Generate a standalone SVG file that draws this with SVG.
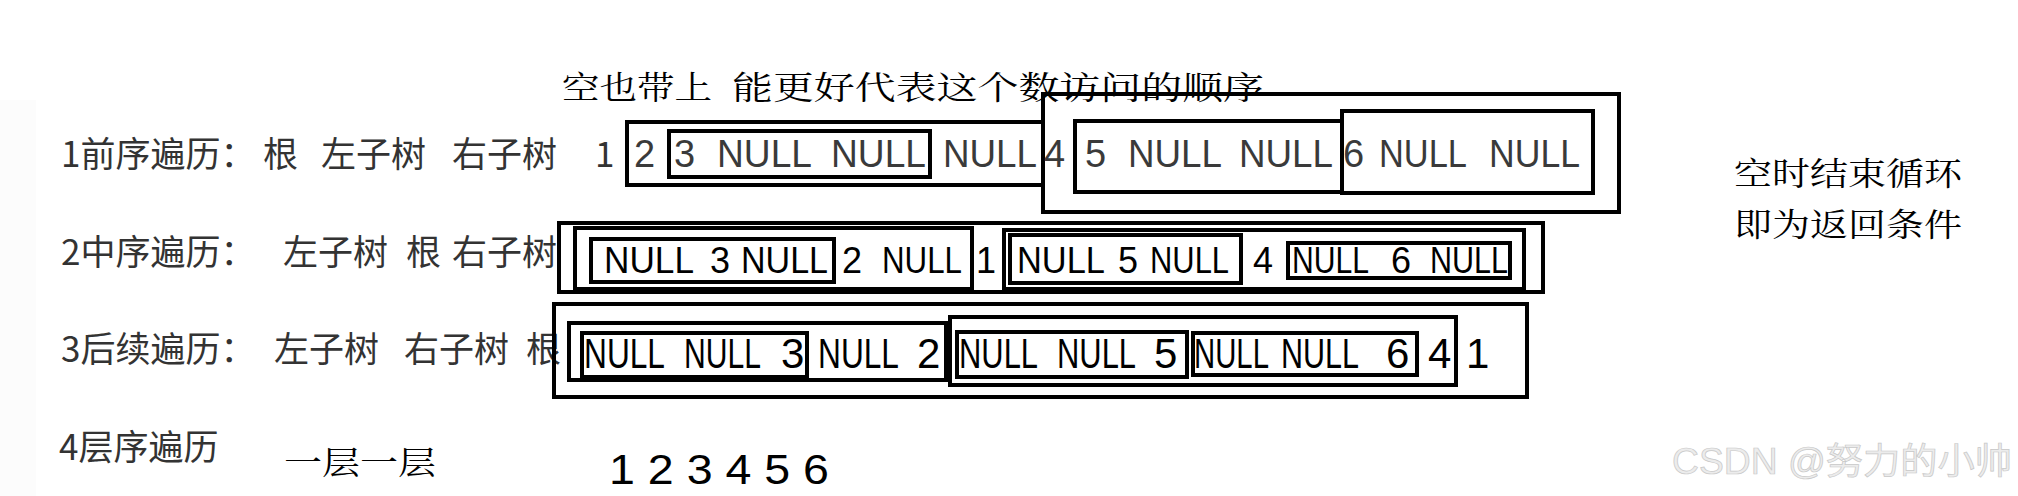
<svg xmlns="http://www.w3.org/2000/svg" width="2018" height="496" viewBox="0 0 2018 496">
<style>
.box{fill:none;stroke:#000;stroke-width:4}
.lbl{font-family:"Noto Sans CJK SC","Liberation Sans",sans-serif;font-size:35px;fill:#333}
.n1{font-family:"Liberation Sans",Arial,sans-serif;font-size:38px;fill:#3a3a3a}
.n2{font-family:"Liberation Sans",Arial,sans-serif;font-size:36px;fill:#000}
.n3{font-family:"Liberation Sans",Arial,sans-serif;font-size:42px;fill:#000}
.kai{font-family:"Noto Serif CJK SC","Noto Sans CJK SC",serif;font-size:32px;fill:#000}
.wm{font-family:"Liberation Sans","Noto Sans CJK SC",sans-serif;font-size:36px;fill:#ececec;stroke:#c8c8c8;stroke-width:0.7}
</style>
<rect x="0" y="0" width="2018" height="496" fill="#fff"/>
<rect x="0" y="100" width="36" height="396" fill="#fcfcfc"/>

<g id="title">
<text class="kai" x="562" y="99" textLength="150" lengthAdjust="spacingAndGlyphs">空也带上</text>
<text class="kai" x="732" y="99" textLength="532" lengthAdjust="spacingAndGlyphs">能更好代表这个数访问的顺序</text>
</g>

<g id="row1-label">
<text class="lbl" x="61" y="167">1前序遍历：</text>
<text class="lbl" x="263" y="167">根</text>
<text class="lbl" x="321" y="167">左子树</text>
<text class="lbl" x="452" y="167">右子树</text>
<text class="lbl" x="595" y="167">1</text>
</g>

<g id="pre-left">
<rect class="box" x="627" y="122" width="416" height="63"/>
<text class="n1" x="634" y="167">2</text>
<text class="n1" x="943" y="167" textLength="94" lengthAdjust="spacingAndGlyphs">NULL</text>
</g>
<g id="pre-3">
<rect class="box" x="669" y="131" width="261" height="46"/>
<text class="n1" x="674" y="167">3</text>
<text class="n1" x="717" y="167" textLength="95" lengthAdjust="spacingAndGlyphs">NULL</text>
<text class="n1" x="831" y="167" textLength="95" lengthAdjust="spacingAndGlyphs">NULL</text>
</g>
<g id="pre-right">
<rect class="box" x="1043" y="94" width="576" height="118"/>
<text class="n1" x="1044" y="167">4</text>
</g>
<g id="pre-5">
<rect class="box" x="1075" y="121" width="267" height="71"/>
<text class="n1" x="1085" y="167">5</text>
<text class="n1" x="1128" y="167" textLength="94" lengthAdjust="spacingAndGlyphs">NULL</text>
<text class="n1" x="1239" y="167" textLength="94" lengthAdjust="spacingAndGlyphs">NULL</text>
</g>
<g id="pre-6">
<rect class="box" x="1342" y="111" width="251" height="82"/>
<text class="n1" x="1343" y="167">6</text>
<text class="n1" x="1379" y="167" textLength="88" lengthAdjust="spacingAndGlyphs">NULL</text>
<text class="n1" x="1489" y="167" textLength="91" lengthAdjust="spacingAndGlyphs">NULL</text>
</g>

<g id="row2-label">
<text class="lbl" x="61" y="265">2中序遍历：</text>
<text class="lbl" x="283" y="265">左子树</text>
<text class="lbl" x="406" y="265">根</text>
<text class="lbl" x="452" y="265">右子树</text>
</g>

<g id="in-all">
<rect class="box" x="559" y="223" width="984" height="69"/>
<text class="n2" x="976" y="273">1</text>
</g>
<g id="in-left">
<rect class="box" x="575" y="228" width="397" height="61"/>
<text class="n2" x="842" y="273">2</text>
<text class="n2" x="882" y="273" textLength="80" lengthAdjust="spacingAndGlyphs">NULL</text>
</g>
<g id="in-3">
<rect class="box" x="591" y="239" width="243" height="43"/>
<text class="n2" x="604" y="273" textLength="90" lengthAdjust="spacingAndGlyphs">NULL</text>
<text class="n2" x="710" y="273">3</text>
<text class="n2" x="741" y="273" textLength="87" lengthAdjust="spacingAndGlyphs">NULL</text>
</g>
<g id="in-right">
<rect class="box" x="1004" y="230" width="520" height="59"/>
<text class="n2" x="1253" y="273">4</text>
</g>
<g id="in-5">
<rect class="box" x="1010" y="235" width="231" height="48"/>
<text class="n2" x="1017" y="273" textLength="88" lengthAdjust="spacingAndGlyphs">NULL</text>
<text class="n2" x="1118" y="273">5</text>
<text class="n2" x="1150" y="273" textLength="79" lengthAdjust="spacingAndGlyphs">NULL</text>
</g>
<g id="in-6">
<rect class="box" x="1288" y="243" width="222" height="35"/>
<text class="n2" x="1292" y="273" textLength="77" lengthAdjust="spacingAndGlyphs">NULL</text>
<text class="n2" x="1391" y="273">6</text>
<text class="n2" x="1430" y="273" textLength="78" lengthAdjust="spacingAndGlyphs">NULL</text>
</g>

<g id="row3-label">
<text class="lbl" x="61" y="362">3后续遍历：</text>
<text class="lbl" x="274" y="362">左子树</text>
<text class="lbl" x="404" y="362">右子树</text>
<text class="lbl" x="526" y="362">根</text>
</g>

<g id="post-all">
<rect class="box" x="554" y="304" width="973" height="93"/>
<text class="n3" x="1466" y="368">1</text>
</g>
<g id="post-left">
<rect class="box" x="569" y="323" width="377" height="57"/>
<text class="n3" x="818" y="368" textLength="81" lengthAdjust="spacingAndGlyphs">NULL</text>
<text class="n3" x="917" y="368">2</text>
</g>
<g id="post-3">
<rect class="box" x="582" y="333" width="225" height="44"/>
<text class="n3" x="584" y="368" textLength="81" lengthAdjust="spacingAndGlyphs">NULL</text>
<text class="n3" x="684" y="368" textLength="77" lengthAdjust="spacingAndGlyphs">NULL</text>
<text class="n3" x="781" y="368">3</text>
</g>
<g id="post-right">
<rect class="box" x="950" y="317" width="506" height="68"/>
<text class="n3" x="1428" y="368">4</text>
</g>
<g id="post-5">
<rect class="box" x="957" y="332" width="230" height="45"/>
<text class="n3" x="959" y="368" textLength="79" lengthAdjust="spacingAndGlyphs">NULL</text>
<text class="n3" x="1057" y="368" textLength="79" lengthAdjust="spacingAndGlyphs">NULL</text>
<text class="n3" x="1154" y="368">5</text>
</g>
<g id="post-6">
<rect class="box" x="1193" y="333" width="224" height="42"/>
<text class="n3" x="1194" y="368" textLength="75" lengthAdjust="spacingAndGlyphs">NULL</text>
<text class="n3" x="1281" y="368" textLength="78" lengthAdjust="spacingAndGlyphs">NULL</text>
<text class="n3" x="1386" y="368">6</text>
</g>

<g id="row4">
<text class="lbl" x="59" y="460">4层序遍历</text>
<text class="kai" x="284" y="474" textLength="152" lengthAdjust="spacingAndGlyphs">一层一层</text>
<text class="n3" x="609" y="484" font-size="45" textLength="220" lengthAdjust="spacingAndGlyphs">1 2 3 4 5 6</text>
</g>

<g id="note">
<text class="kai" x="1734" y="185" textLength="228" lengthAdjust="spacingAndGlyphs">空时结束循环</text>
<text class="kai" x="1734" y="236" textLength="228" lengthAdjust="spacingAndGlyphs">即为返回条件</text>
</g>

<g id="connectors"></g>

<text class="wm" x="1672" y="474" textLength="340" lengthAdjust="spacingAndGlyphs">CSDN @努力的小帅</text>
</svg>
